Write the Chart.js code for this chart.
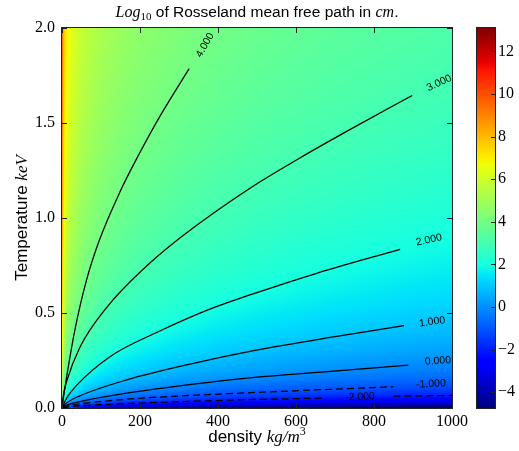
<!DOCTYPE html>
<html>
<head>
<meta charset="utf-8">
<title>Rosseland mean free path</title>
<script src="https://cdn.jsdelivr.net/npm/chart.js@4.4.1/dist/chart.umd.min.js"></script>
<style>
  html, body { margin: 0; padding: 0; background: #fff; }
  #wrap { position: relative; width: 519px; height: 451px; }
  #wrap canvas { position: absolute; top: 0; }
  #main { left: 0; }
  #cbar { left: 465px; }
</style>
</head>
<body>
<div id="wrap">
  <canvas id="main" width="519" height="451"></canvas>
  <canvas id="cbar" width="54" height="451"></canvas>
</div>
<script>
// grid the colour field is sampled on (kg/m^3 and keV)
const densityGrid = [0.5, 3, 8, 15, 30, 60, 100, 150, 200, 300, 400, 500, 600, 700, 800, 900, 1000];
const temperatureGrid = [0.01, 0.02, 0.04, 0.07, 0.1, 0.15, 0.2, 0.3, 0.4, 0.55, 0.7, 0.9, 1.1, 1.35, 1.65, 2.0];
// log10 of mean free path, one row per temperature
const logPathGrid = [
  [1.73, 0.18, -0.68, -1.22, -1.82, -2.43, -2.87, -3.22, -3.47, -3.82, -4.07, -4.27, -4.43, -4.56, -4.68, -4.78, -4.87],
  [2.79, 1.23, 0.38, -0.17, -0.77, -1.37, -1.82, -2.17, -2.42, -2.77, -3.02, -3.21, -3.37, -3.51, -3.62, -3.72, -3.82],
  [3.84, 2.28, 1.43, 0.89, 0.28, -0.32, -0.76, -1.12, -1.37, -1.72, -1.97, -2.16, -2.32, -2.45, -2.57, -2.67, -2.76],
  [4.69, 3.13, 2.28, 1.74, 1.13, 0.53, 0.09, -0.26, -0.51, -0.87, -1.12, -1.31, -1.47, -1.60, -1.72, -1.82, -1.91],
  [5.23, 3.68, 2.82, 2.28, 1.68, 1.07, 0.63, 0.28, 0.03, -0.32, -0.57, -0.77, -0.93, -1.06, -1.18, -1.28, -1.37],
  [5.85, 4.29, 3.44, 2.89, 2.29, 1.69, 1.25, 0.89, 0.64, 0.29, 0.04, -0.15, -0.31, -0.44, -0.56, -0.66, -0.75],
  [6.29, 4.73, 3.88, 3.33, 2.73, 2.13, 1.68, 1.33, 1.08, 0.73, 0.48, 0.29, 0.13, -0.01, -0.12, -0.22, -0.32],
  [6.90, 5.35, 4.49, 3.95, 3.35, 2.74, 2.30, 1.95, 1.70, 1.35, 1.10, 0.90, 0.74, 0.61, 0.49, 0.39, 0.30],
  [7.34, 5.78, 4.93, 4.39, 3.78, 3.18, 2.74, 2.39, 2.14, 1.78, 1.53, 1.34, 1.18, 1.05, 0.93, 0.83, 0.74],
  [7.82, 6.27, 5.42, 4.87, 4.27, 3.67, 3.22, 2.87, 2.62, 2.27, 2.02, 1.82, 1.67, 1.53, 1.42, 1.31, 1.22],
  [8.19, 6.63, 5.78, 5.24, 4.63, 4.03, 3.59, 3.24, 2.99, 2.63, 2.38, 2.19, 2.03, 1.90, 1.78, 1.68, 1.59],
  [8.57, 7.02, 6.16, 5.62, 5.02, 4.41, 3.97, 3.62, 3.37, 3.02, 2.77, 2.57, 2.41, 2.28, 2.16, 2.06, 1.97],
  [8.88, 7.32, 6.47, 5.92, 5.32, 4.72, 4.28, 3.92, 3.67, 3.32, 3.07, 2.88, 2.72, 2.59, 2.47, 2.37, 2.28],
  [9.19, 7.63, 6.78, 6.23, 5.63, 5.03, 4.59, 4.23, 3.98, 3.63, 3.38, 3.19, 3.03, 2.90, 2.78, 2.68, 2.59],
  [9.49, 7.94, 7.09, 6.54, 5.94, 5.34, 4.89, 4.54, 4.29, 3.94, 3.69, 3.49, 3.34, 3.20, 3.09, 2.98, 2.89],
  [9.79, 8.23, 7.38, 6.83, 6.23, 5.63, 5.18, 4.83, 4.58, 4.23, 3.98, 3.79, 3.63, 3.49, 3.38, 3.28, 3.18]
];

// contour lines
const lvl4Rho = [0, 2, 12, 33, 63, 96, 149, 196, 251, 326];
const lvl4T   = [0, 0.03, 0.165, 0.41, 0.674, 0.884, 1.139, 1.33, 1.535, 1.786];
const lvl3Rho = [0, 3, 12, 46, 115, 208, 303, 482, 610, 738, 898];
const lvl3T   = [0, 0.06, 0.14, 0.32, 0.53, 0.73, 0.896, 1.157, 1.316, 1.465, 1.645];
const lvl2Rho = [0, 10, 38, 123, 251, 379, 482, 653, 867];
const lvl2T   = [0, 0.045, 0.12, 0.27, 0.405, 0.52, 0.595, 0.709, 0.835];
const lvl1Rho = [0, 12, 46, 166, 337, 482, 696, 877];
const lvl1T   = [0, 0.027, 0.064, 0.148, 0.235, 0.298, 0.374, 0.433];
const lvl0Rho = [0, 12, 46, 166, 337, 482, 696, 888];
const lvl0T   = [0, 0.0145, 0.034, 0.078, 0.126, 0.159, 0.194, 0.226];
const lvlM1Rho = [0, 10, 50, 200, 456, 850];
const lvlM1T   = [0, 0.009, 0.023, 0.051, 0.078, 0.112];
const lvlM2Rho = [0, 30, 100, 200, 371, 520, 675];
const lvlM2T   = [0, 0.009, 0.018, 0.026, 0.038, 0.046, 0.052];
const lvlM2bRho = [850, 1000];
const lvlM2bT   = [0.062, 0.066];

const xTicks = [0, 200, 400, 600, 800, 1000];
const yTicks = [0, 0.5, 1.0, 1.5, 2.0];
const cbTicks = [-4, -2, 0, 2, 4, 6, 8, 10, 12];
const cbMin = -4.74, cbMax = 13.1;

// where the inline contour labels sit (data coords) and their tilt
const contourLabels = [
  { text: '4.000', rho: 367, T: 1.91, angle: -60 },
  { text: '3.000', rho: 967, T: 1.71, angle: -25 },
  { text: '2.000', rho: 941, T: 0.884, angle: -12 },
  { text: '1.000', rho: 949, T: 0.453, angle: -7 },
  { text: '0.000', rho: 964, T: 0.247, angle: -4 },
  { text: '-1.000', rho: 946, T: 0.126, angle: -3 },
  { text: '-2.000', rho: 764, T: 0.058, angle: -2 }
];

// matplotlib jet
const jetRed = [[0, 0], [0.35, 0], [0.66, 1], [0.89, 1], [1, 0.5]];
const jetGreen = [[0, 0], [0.125, 0], [0.375, 1], [0.64, 1], [0.91, 0], [1, 0]];
const jetBlue = [[0, 0.5], [0.11, 1], [0.34, 1], [0.65, 0], [1, 0]];
function seg(s, t) {
  for (let i = 1; i < s.length; i++) {
    if (t <= s[i][0]) {
      const [x0, y0] = s[i - 1], [x1, y1] = s[i];
      return y0 + (y1 - y0) * (t - x0) / (x1 - x0);
    }
  }
  return s[s.length - 1][1];
}
function jet(v) {
  let t = (v - cbMin) / (cbMax - cbMin);
  t = Math.max(0, Math.min(1, t));
  return [seg(jetRed, t) * 255, seg(jetGreen, t) * 255, seg(jetBlue, t) * 255];
}
function bracket(grid, v) {
  const n = grid.length;
  if (v <= grid[0]) return [0, 0, 0];
  if (v >= grid[n - 1]) return [n - 1, n - 1, 0];
  let i = 0;
  while (grid[i + 1] < v) i++;
  return [i, i + 1, (v - grid[i]) / (grid[i + 1] - grid[i])];
}

const SERIF = '"Liberation Serif", "DejaVu Serif", serif';
const SANS = '"Liberation Sans", Arial, sans-serif';

function drawRich(ctx, parts, cx, by) {
  let total = 0;
  parts.forEach(p => { ctx.font = p.font; p.w = ctx.measureText(p.t).width; total += p.w; });
  let xx = cx - total / 2;
  ctx.textAlign = 'left';
  ctx.textBaseline = 'alphabetic';
  parts.forEach(p => { ctx.font = p.font; ctx.fillText(p.t, xx, by + (p.dy || 0)); xx += p.w; });
}

const heatmap = {
  id: 'heatmap',
  beforeDatasetsDraw(chart) {
    const { ctx, chartArea: a, scales: { x, y } } = chart;
    const w = Math.round(a.right - a.left), h = Math.round(a.bottom - a.top);
    const off = document.createElement('canvas');
    off.width = w; off.height = h;
    const octx = off.getContext('2d');
    const img = octx.createImageData(w, h);
    const cols = [];
    for (let i = 0; i < w; i++) cols.push(bracket(densityGrid, x.getValueForPixel(a.left + i + 0.5)));
    for (let j = 0; j < h; j++) {
      const [r0, r1, v] = bracket(temperatureGrid, y.getValueForPixel(a.top + j + 0.5));
      const row0 = logPathGrid[r0], row1 = logPathGrid[r1];
      for (let i = 0; i < w; i++) {
        const [c0, c1, u] = cols[i];
        const f = (1 - v) * ((1 - u) * row0[c0] + u * row0[c1]) + v * ((1 - u) * row1[c0] + u * row1[c1]);
        const c = jet(f);
        const k = (j * w + i) * 4;
        img.data[k] = c[0]; img.data[k + 1] = c[1]; img.data[k + 2] = c[2]; img.data[k + 3] = 255;
      }
    }
    octx.putImageData(img, 0, 0);
    ctx.drawImage(off, a.left, a.top);
  },
  afterDraw(chart) {
    const { ctx, chartArea: a, scales: { x, y } } = chart;
    ctx.save();
    // contour labels
    ctx.fillStyle = '#000';
    ctx.font = '10.5px ' + SANS;
    ctx.textAlign = 'center';
    ctx.textBaseline = 'middle';
    contourLabels.forEach(l => {
      ctx.save();
      ctx.translate(x.getPixelForValue(l.rho), y.getPixelForValue(l.T));
      ctx.rotate(l.angle * Math.PI / 180);
      ctx.fillText(l.text, 0, 0);
      ctx.restore();
    });
    // frame + inward ticks
    ctx.strokeStyle = '#222';
    ctx.lineWidth = 1;
    ctx.strokeRect(a.left - 0.5, a.top - 0.5, a.right - a.left + 1, a.bottom - a.top + 1);
    ctx.beginPath();
    xTicks.forEach(v => {
      const px = Math.round(x.getPixelForValue(v)) + 0.5;
      ctx.moveTo(px, a.bottom); ctx.lineTo(px, a.bottom - 5);
      ctx.moveTo(px, a.top); ctx.lineTo(px, a.top + 5);
    });
    yTicks.forEach(v => {
      const py = Math.round(y.getPixelForValue(v)) + 0.5;
      ctx.moveTo(a.left, py); ctx.lineTo(a.left + 5, py);
      ctx.moveTo(a.right, py); ctx.lineTo(a.right - 5, py);
    });
    ctx.stroke();
    // title and axis titles
    ctx.fillStyle = '#000';
    const cx = (a.left + a.right) / 2;
    drawRich(ctx, [
      { t: 'Log', font: 'italic 16px ' + SERIF },
      { t: '10', font: '11px ' + SERIF, dy: 3 },
      { t: ' of Rosseland mean free path in ', font: '15.5px ' + SANS },
      { t: 'cm', font: 'italic 16px ' + SERIF },
      { t: '.', font: '15.5px ' + SANS }
    ], cx, 17);
    drawRich(ctx, [
      { t: 'density ', font: '17px ' + SANS },
      { t: 'kg/m', font: 'italic 17px ' + SERIF },
      { t: '3', font: '12px ' + SERIF, dy: -7 }
    ], cx, 442);
    ctx.save();
    ctx.translate(27, (a.top + a.bottom) / 2);
    ctx.rotate(-Math.PI / 2);
    drawRich(ctx, [
      { t: 'Temperature ', font: '17px ' + SANS },
      { t: 'keV', font: 'italic 17px ' + SERIF }
    ], 0, 0);
    ctx.restore();
    ctx.restore();
  }
};

function contour(rho, temp, dashed) {
  return {
    data: rho.map((r, i) => ({ x: r, y: temp[i] })),
    showLine: true,
    borderColor: '#000',
    borderWidth: 1.25,
    borderDash: dashed ? [7, 4] : [],
    pointRadius: 0,
    cubicInterpolationMode: 'monotone'
  };
}

new Chart(document.getElementById('main'), {
  type: 'scatter',
  data: {
    datasets: [
      contour(lvl4Rho, lvl4T, false),
      contour(lvl3Rho, lvl3T, false),
      contour(lvl2Rho, lvl2T, false),
      contour(lvl1Rho, lvl1T, false),
      contour(lvl0Rho, lvl0T, false),
      contour(lvlM1Rho, lvlM1T, true),
      contour(lvlM2Rho, lvlM2T, true),
      contour(lvlM2bRho, lvlM2bT, true)
    ]
  },
  options: {
    responsive: false,
    animation: false,
    events: [],
    layout: { padding: { left: 0, top: 28, right: 67, bottom: 0 } },
    plugins: { legend: { display: false }, tooltip: { enabled: false }, title: { display: false } },
    scales: {
      x: {
        type: 'linear', min: 0, max: 1000,
        afterBuildTicks: s => { s.ticks = xTicks.map(v => ({ value: v })); },
        afterFit: s => { s.height = 43; },
        grid: { display: false, drawTicks: false },
        border: { display: false },
        ticks: { padding: 4, color: '#000', font: { family: SERIF, size: 16 }, maxRotation: 0, callback: v => String(v) }
      },
      y: {
        type: 'linear', min: 0, max: 2,
        afterBuildTicks: s => { s.ticks = yTicks.map(v => ({ value: v })); },
        afterFit: s => { s.width = 62; },
        grid: { display: false, drawTicks: false },
        border: { display: false },
        ticks: { padding: 7, color: '#000', font: { family: SERIF, size: 16 }, callback: v => v.toFixed(1) }
      }
    }
  },
  plugins: [heatmap]
});

const colorbar = {
  id: 'colorbar',
  beforeDraw(chart) {
    const { ctx, chartArea: a, scales: { y } } = chart;
    for (let py = Math.floor(a.top); py < a.bottom; py++) {
      const c = jet(y.getValueForPixel(py + 0.5));
      ctx.fillStyle = `rgb(${c[0] | 0},${c[1] | 0},${c[2] | 0})`;
      ctx.fillRect(a.left, py, a.right - a.left, 1);
    }
  },
  afterDraw(chart) {
    const { ctx, chartArea: a, scales: { y } } = chart;
    ctx.save();
    ctx.strokeStyle = '#222';
    ctx.lineWidth = 1;
    ctx.strokeRect(a.left - 0.5, a.top - 0.5, a.right - a.left + 1, a.bottom - a.top + 1);
    ctx.beginPath();
    cbTicks.forEach(v => {
      const py = Math.round(y.getPixelForValue(v)) + 0.5;
      ctx.moveTo(a.right, py); ctx.lineTo(a.right - 4, py);
    });
    ctx.stroke();
    ctx.restore();
  }
};

new Chart(document.getElementById('cbar'), {
  type: 'scatter',
  data: { datasets: [] },
  options: {
    responsive: false,
    animation: false,
    events: [],
    layout: { padding: { left: 12, top: 28, right: 0, bottom: 43 } },
    plugins: { legend: { display: false }, tooltip: { enabled: false } },
    scales: {
      x: { display: false, min: 0, max: 1 },
      y: {
        position: 'right', min: cbMin, max: cbMax,
        afterBuildTicks: s => { s.ticks = cbTicks.map(v => ({ value: v })); },
        afterFit: s => { s.width = 24; },
        grid: { display: false, drawTicks: false },
        border: { display: false },
        ticks: { padding: 3, color: '#000', font: { family: SERIF, size: 16 }, callback: v => String(v).replace('-', '\u2212') }
      }
    }
  },
  plugins: [colorbar]
});
</script>
</body>
</html>
